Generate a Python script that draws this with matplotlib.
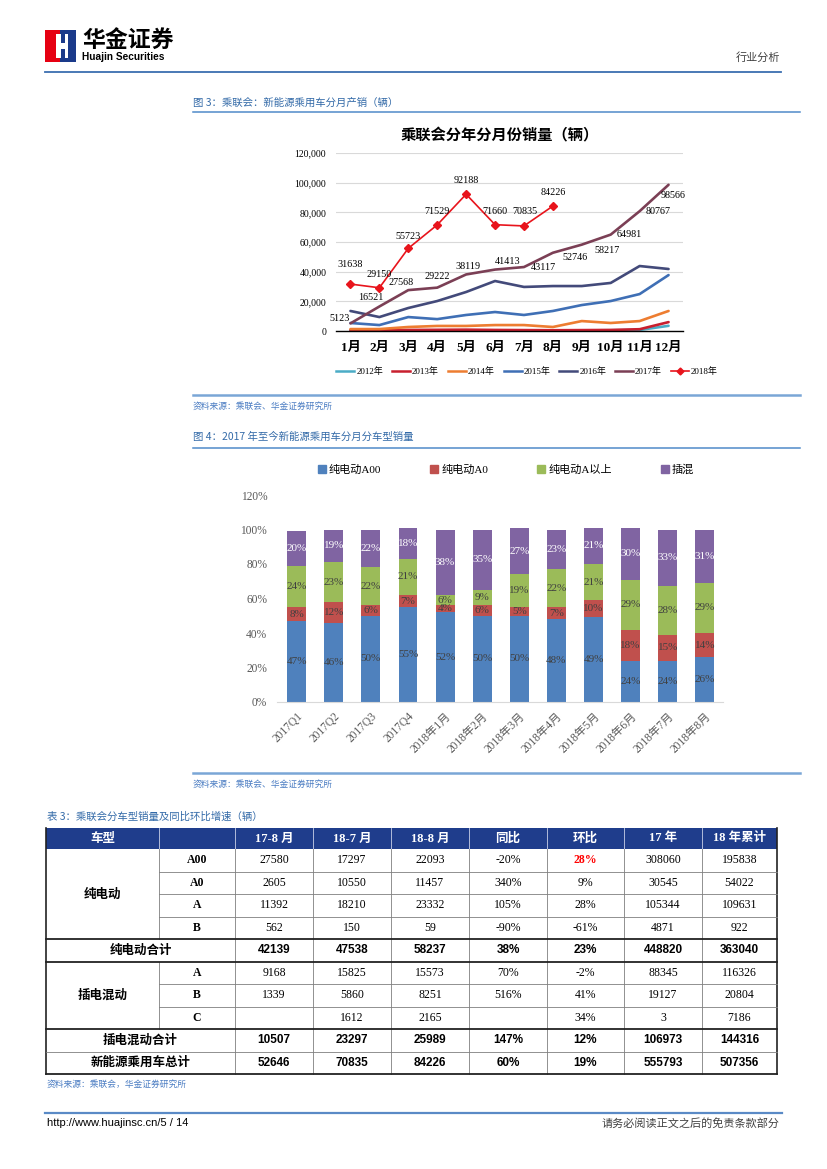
import numpy as np
import matplotlib.pyplot as plt
from matplotlib.patches import Rectangle, Polygon, Patch
from matplotlib.lines import Line2D
from matplotlib.ticker import FuncFormatter

SERIF = ['Liberation Serif', 'Noto Sans CJK SC']
SANS = ['Noto Sans CJK SC', 'DejaVu Sans']
plt.rcParams['font.family'] = SERIF

W, H = 827, 1169

# ---------------- chart 1: monthly sales by year
months = ['1月', '2月', '3月', '4月', '5月', '6月', '7月', '8月', '9月', '10月', '11月', '12月']
years = ['2012年', '2013年', '2014年', '2015年', '2016年', '2017年', '2018年']
s2012 = [300, 200, 300, 400, 400, 400, 300, 300, 400, 500, 700, 3500]
s2013 = [600, 500, 700, 800, 900, 700, 600, 500, 600, 700, 1200, 6000]
s2014 = [1300, 1300, 2700, 3400, 3400, 4000, 4000, 2700, 6700, 5400, 6700, 13500]
s2015 = [5400, 4000, 9400, 8000, 10800, 12800, 10800, 13500, 17500, 20200, 24900, 37700]
s2016 = [13500, 9400, 15500, 20200, 26300, 33700, 29700, 30300, 30300, 32400, 43800, 41800]
s2017 = [5123, 16521, 27568, 29222, 38119, 41413, 43117, 52746, 58217, 64981, 80767, 98566]
s2018 = [31638, 29150, 55723, 71529, 92188, 71660, 70835, 84226]

# ---------------- chart 2: share by car type
periods = ['2017Q1', '2017Q2', '2017Q3', '2017Q4', '2018年1月', '2018年2月', '2018年3月',
           '2018年4月', '2018年5月', '2018年6月', '2018年7月', '2018年8月']
types = ['纯电动A00', '纯电动A0', '纯电动A以上', '插混']
a00 = [47, 46, 50, 55, 52, 50, 50, 48, 49, 24, 24, 26]
a0 = [8, 12, 6, 7, 4, 6, 5, 7, 10, 18, 15, 14]
a_up = [24, 23, 22, 21, 6, 9, 19, 22, 21, 29, 28, 29]
phev = [20, 19, 22, 18, 38, 35, 27, 23, 21, 30, 33, 31]

# ---------------- table 3
tbl_cols = ['17-8 月', '18-7 月', '18-8 月', '同比', '环比', '17 年', '18 年累计']
bev_types = ['A00', 'A0', 'A', 'B']
bev_rows = [
    ['27580', '17297', '22093', '-20%', '28%', '308060', '195838'],
    ['2605', '10550', '11457', '340%', '9%', '30545', '54022'],
    ['11392', '18210', '23332', '105%', '28%', '105344', '109631'],
    ['562', '150', '59', '-90%', '-61%', '4871', '922'],
]
bev_total = ['42139', '47538', '58237', '38%', '23%', '448820', '363040']
phev_types = ['A', 'B', 'C']
phev_rows = [
    ['9168', '15825', '15573', '70%', '-2%', '88345', '116326'],
    ['1339', '5860', '8251', '516%', '41%', '19127', '20804'],
    ['', '1612', '2165', '', '34%', '3', '7186'],
]
phev_total = ['10507', '23297', '25989', '147%', '12%', '106973', '144316']
nev_total = ['52646', '70835', '84226', '60%', '19%', '555793', '507356']

fig = plt.figure(figsize=(8.27, 11.69), dpi=100)

page = fig.add_axes([0, 0, 1, 1])
page.set_xlim(0, W)
page.set_ylim(H, 0)
page.axis('off')

cap_col = '#336aa8'
src_col = '#4a7cc2'

# header / logo
page.add_patch(Rectangle((45, 30), 15, 32, color='#e60012', lw=0))
page.add_patch(Rectangle((60, 30), 16, 32, color='#1a3a8a', lw=0))
page.add_patch(Polygon([(56, 34), (61, 34), (61, 43), (65, 43), (65, 34), (68, 34),
                        (68, 58), (65, 58), (65, 49), (61, 49), (61, 58), (56, 58)],
                       closed=True, color='white', lw=0))
page.text(82, 41, '华金证券', fontsize=16.5, fontweight='bold', family=SANS, va='center', ha='left')
page.text(82, 57, 'Huajin Securities', fontsize=7.3, fontweight='bold',
          family=['Liberation Sans'], va='center', ha='left')
page.text(780, 57, '行业分析', fontsize=8, family=SANS, color='#404040', va='center', ha='right')
page.plot([45, 781], [72, 72], color='#3b6eb0', lw=1.3)

# captions
page.text(193, 103, '图 3：乘联会：新能源乘用车分月产销（辆）', fontsize=7.5, color=cap_col,
          family=SANS, va='center')
page.plot([193, 800], [112, 112], color='#4f8ac9', lw=1.1)
page.plot([193, 800], [395, 395], color='#7aa6d6', lw=1.8)
page.text(193, 406, '资料来源：乘联会、华金证券研究所', fontsize=6.3, color=src_col, family=SANS, va='center')

page.text(193, 437, '图 4：2017 年至今新能源乘用车分月分车型销量', fontsize=7.5, color=cap_col,
          family=SANS, va='center')
page.plot([193, 800], [448, 448], color='#4f8ac9', lw=1.1)
page.plot([193, 800], [773, 773], color='#7aa6d6', lw=1.8)
page.text(193, 784, '资料来源：乘联会、华金证券研究所', fontsize=6.3, color=src_col, family=SANS, va='center')

page.text(47, 817, '表 3：乘联会分车型销量及同比环比增速（辆）', fontsize=7.5, color=cap_col,
          family=SANS, va='center')
page.text(47, 1084, '资料来源：乘联会，华金证券研究所', fontsize=6.3, color=src_col, family=SANS, va='center')

# footer
page.plot([45, 782], [1113, 1113], color='#5a8ac6', lw=1.6)
page.text(47, 1123, 'http://www.huajinsc.cn/5 / 14', fontsize=8, family=['Liberation Sans'], va='center')
page.text(780, 1123, '请务必阅读正文之后的免责条款部分', fontsize=8, family=SANS, color='#404040',
          va='center', ha='right')

# ================= chart 1
ax1 = fig.add_axes([336 / W, 1 - 331 / H, 347 / W, 178 / H])
x = np.arange(len(months))
line_series = [s2012, s2013, s2014, s2015, s2016, s2017]
line_colors = ['#4bacc6', '#c8202f', '#ed7d31', '#3f6fb5', '#434a7a', '#7b3f55']
for s, c in zip(line_series, line_colors):
    ax1.plot(x[:len(s)], s, color=c, lw=1.9, solid_capstyle='round', solid_joinstyle='round')
ax1.plot(x[:len(s2018)], s2018, color='#e8141c', lw=1.2, marker='D', ms=4.5)

# data label offsets in pixels (dx, dy up)
off2018 = [(0, 20), (0, 13), (0, 12), (0, 13), (0, 14), (0, 13), (1, 14), (0, 14)]
off2017 = [(-11, 5), (-9, 9), (-7, 8), (0, 11), (2, 8), (13, 8), (19, 0), (22, -5),
           (25, -6), (19, 0), (19, 0), (5, -11)]
for i, v in enumerate(s2018):
    ax1.annotate(str(v), (i, v), xytext=off2018[i], textcoords='offset pixels',
                 ha='center', va='center', fontsize=7.3)
for i, v in enumerate(s2017):
    ax1.annotate(str(v), (i, v), xytext=off2017[i], textcoords='offset pixels',
                 ha='center', va='center', fontsize=7.3)

ax1.set_xlim(-0.5, 11.5)
ax1.set_ylim(0, 120000)
ax1.set_yticks(np.arange(0, 120001, 20000))
ax1.yaxis.set_major_formatter(FuncFormatter(lambda v, p: f'{int(v):,}'))
ax1.set_xticks(x)
ax1.set_xticklabels(months, fontweight='bold', fontsize=9.5)
ax1.tick_params(axis='both', length=0)
ax1.tick_params(axis='y', labelsize=7, pad=7)
ax1.tick_params(axis='x', pad=8)
ax1.grid(axis='y', color='#d9d9d9', lw=0.8)
ax1.set_axisbelow(True)
for sp in ['left', 'right', 'top']:
    ax1.spines[sp].set_visible(False)
ax1.spines['bottom'].set_color('black')
ax1.spines['bottom'].set_linewidth(1.0)
ax1.set_facecolor('none')

page.text(500, 135, '乘联会分年分月份销量（辆）', fontsize=11, fontweight='bold', family=SANS,
          ha='center', va='center')

handles1 = [Line2D([], [], color=c, lw=1.8) for c in line_colors]
handles1.append(Line2D([], [], color='#e8141c', lw=1.2, marker='D', ms=3.5))
fig.legend(handles1, years, loc='center', bbox_to_anchor=(527 / W, 1 - 372 / H), ncol=7,
           frameon=False, fontsize=6.5, handlelength=2.0, columnspacing=1.0, handletextpad=0.2)

# ================= chart 2
ax2 = fig.add_axes([277 / W, 1 - 702 / H, 446 / W, 207 / H])
xb = np.arange(len(periods))
bar_colors = ['#4f81bd', '#c0504d', '#9bbb59', '#8064a2']
lab_colors = ['#404040', '#404040', '#404040', 'white']
bottom = np.zeros(len(periods))
for vals, c, lc in zip([a00, a0, a_up, phev], bar_colors, lab_colors):
    v = np.array(vals) / 100
    ax2.bar(xb, v, width=0.51, bottom=bottom, color=c)
    for i in range(len(xb)):
        ax2.text(xb[i], bottom[i] + v[i] / 2, f'{vals[i]}%', ha='center', va='center',
                 fontsize=8, color=lc)
    bottom = bottom + v

ax2.set_xlim(-0.53, 11.49)
ax2.set_ylim(0, 1.2)
ax2.set_yticks(np.arange(0, 1.21, 0.2))
ax2.yaxis.set_major_formatter(FuncFormatter(lambda v, p: f'{int(round(v * 100))}%'))
ax2.set_xticks(xb)
ax2.set_xticklabels(periods, rotation=45, ha='right', rotation_mode='anchor')
ax2.tick_params(axis='both', length=0, labelsize=8.3, labelcolor='#595959')
ax2.tick_params(axis='y', pad=7)
ax2.tick_params(axis='x', pad=6)
for sp in ['left', 'right', 'top']:
    ax2.spines[sp].set_visible(False)
ax2.spines['bottom'].set_color('#d9d9d9')
ax2.set_facecolor('none')

handles2 = [Patch(color=c) for c in bar_colors]
fig.legend(handles2, types, loc='center', bbox_to_anchor=(506 / W, 1 - 470 / H), ncol=4,
           frameon=False, fontsize=8, handlelength=0.7, handleheight=0.7,
           columnspacing=4.4, handletextpad=0.3)

# ================= table 3
xs = [46, 159, 235, 313, 391, 469, 547, 624, 702, 777]
top, hb = 828, 849
rh = 22.5
nrows = 10
ys = [hb + rh * k for k in range(nrows + 1)]
grid_c = '#7f7f7f'

page.add_patch(Rectangle((xs[0], top), xs[-1] - xs[0], hb - top, color='#1f3d8c', lw=0))
for xv in xs[1:-1]:
    page.plot([xv, xv], [top, hb], color='#c8d0e8', lw=0.6)
hcx = [(xs[i] + xs[i + 1]) / 2 for i in range(len(xs) - 1)]
page.text(hcx[0], (top + hb) / 2, '车型', color='white', fontsize=9, fontweight='bold',
          family=SANS, ha='center', va='center')
for j, c in enumerate(tbl_cols):
    page.text(hcx[j + 2], (top + hb) / 2, c, color='white', fontsize=9, fontweight='bold',
              family=SERIF, ha='center', va='center')

# vertical lines
for xv in xs[2:-1]:
    page.plot([xv, xv], [hb, ys[-1]], color=grid_c, lw=0.6)
page.plot([xs[1], xs[1]], [ys[0], ys[4]], color=grid_c, lw=0.6)
page.plot([xs[1], xs[1]], [ys[5], ys[8]], color=grid_c, lw=0.6)
for xv in (xs[0], xs[-1]):
    page.plot([xv, xv], [top, ys[-1]], color='#222222', lw=1.2)
# horizontal lines
for k in (1, 2, 3, 6, 7):
    page.plot([xs[1], xs[-1]], [ys[k], ys[k]], color=grid_c, lw=0.6)
page.plot([xs[0], xs[-1]], [ys[9], ys[9]], color=grid_c, lw=0.6)
for k in (4, 5, 8, 10):
    page.plot([xs[0], xs[-1]], [ys[k], ys[k]], color='#222222', lw=1.3)


def row_text(k, vals, bold=False):
    yc = (ys[k] + ys[k + 1]) / 2
    for j, v in enumerate(vals):
        if bold:
            page.text(hcx[j + 2], yc, v, fontsize=8.5, fontweight='bold',
                      family=['Liberation Sans'], ha='center', va='center')
        else:
            col = 'black'
            fw = 'normal'
            if k == 0 and j == 4:
                col, fw = '#ff0000', 'bold'
            page.text(hcx[j + 2], yc, v, fontsize=8.5, color=col, fontweight=fw,
                      ha='center', va='center')


for k, (t, r) in enumerate(zip(bev_types, bev_rows)):
    page.text(hcx[1], (ys[k] + ys[k + 1]) / 2, t, fontsize=8.5, fontweight='bold',
              ha='center', va='center')
    row_text(k, r)
page.text(hcx[0], (ys[0] + ys[4]) / 2, '纯电动', fontsize=9, fontweight='bold', family=SANS,
          ha='center', va='center')
page.text((xs[0] + xs[2]) / 2, (ys[4] + ys[5]) / 2, '纯电动合计', fontsize=9,
          fontweight='bold', family=SANS, ha='center', va='center')
row_text(4, bev_total, bold=True)
for k, (t, r) in enumerate(zip(phev_types, phev_rows)):
    page.text(hcx[1], (ys[k + 5] + ys[k + 6]) / 2, t, fontsize=8.5, fontweight='bold',
              ha='center', va='center')
    row_text(k + 5, r)
page.text(hcx[0], (ys[5] + ys[8]) / 2, '插电混动', fontsize=9, fontweight='bold', family=SANS,
          ha='center', va='center')
page.text((xs[0] + xs[2]) / 2, (ys[8] + ys[9]) / 2, '插电混动合计', fontsize=9,
          fontweight='bold', family=SANS, ha='center', va='center')
row_text(8, phev_total, bold=True)
page.text((xs[0] + xs[2]) / 2, (ys[9] + ys[10]) / 2, '新能源乘用车总计', fontsize=9,
          fontweight='bold', family=SANS, ha='center', va='center')
row_text(9, nev_total, bold=True)

fig.savefig('out.png', dpi=100)
